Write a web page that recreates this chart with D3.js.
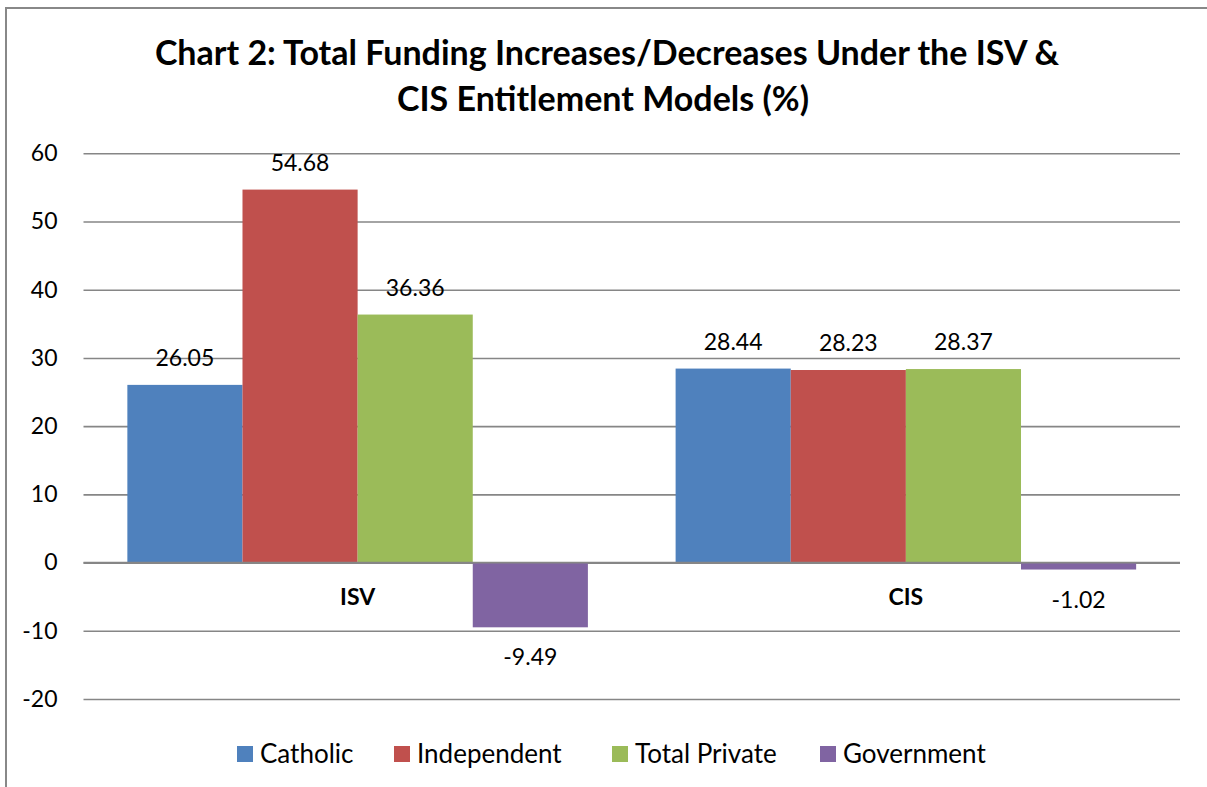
<!DOCTYPE html>
<meta charset="utf-8">
<style>
body { margin: 0; background: #fff; }
text { font-family: Lato, "Open Sans", sans-serif; fill: #000; }
</style>
<body>
<svg width="1207" height="787"></svg>
<script src="https://d3js.org/d3.v7.min.js"></script>
<script>

var categories = ["ISV", "CIS"];
var seriesNames = ["Catholic", "Independent", "Total Private", "Government"];
var catholic = [26.05, 28.44];
var independent = [54.68, 28.23];
var totalPrivate = [36.36, 28.37];
var government = [-9.49, -1.02];
var yTicks = [-20, -10, 0, 10, 20, 30, 40, 50, 60];
var colors = ["#4F81BD", "#C0504D", "#9BBB59", "#8064A2"];

var seriesValues = [catholic, independent, totalPrivate, government];
var data = categories.map(function(c, i) {
  return { cat: c, vals: seriesNames.map(function(s, j) { return { key: s, value: seriesValues[j][i] }; }) };
});

var svg = d3.select("svg");

// frame (left + top edges visible)
svg.append("path")
    .attr("d", "M6,787V8H1207")
    .attr("fill", "none")
    .attr("stroke", "#888")
    .attr("stroke-width", 2);

// title
var title = svg.append("text")
    .attr("text-anchor", "middle")
    .attr("font-weight", "bold")
    .attr("font-size", 34);
title.append("tspan").attr("x", 607).attr("y", 65).text("Chart 2: Total Funding Increases/Decreases Under the ISV &");
title.append("tspan").attr("x", 603).attr("y", 111).text("CIS Entitlement Models (%)");

var x0 = d3.scaleBand()
    .domain(categories)
    .range([83.5, 1180])
    .paddingInner(0.16)
    .paddingOuter(0.08);

var x1 = d3.scaleBand()
    .domain(seriesNames)
    .range([0, x0.bandwidth()]);

var y = d3.scaleLinear()
    .domain([-20, 60])
    .range([699, 153.3]);

var z = d3.scaleOrdinal().domain(seriesNames).range(colors);

// gridlines + y labels
var yAxis = svg.append("g")
    .attr("transform", "translate(83.5,0)")
    .call(d3.axisLeft(y).tickValues(yTicks).tickFormat(function(d) { return String(d); })
      .tickSize(-(1180 - 83.5)).tickPadding(26));
yAxis.select(".domain").remove();
yAxis.selectAll(".tick line").attr("stroke", "#868686").attr("stroke-width", 1.6);
yAxis.selectAll(".tick text")
    .attr("font-size", 23)
    .attr("font-family", "Lato, 'Open Sans', sans-serif")
    .attr("fill", "#000");

// bars
var groups = svg.append("g").selectAll("g")
  .data(data)
  .enter().append("g")
    .attr("transform", function(d) { return "translate(" + x0(d.cat) + ",0)"; });

groups.selectAll("rect")
  .data(function(d) { return d.vals; })
  .enter().append("rect")
    .attr("x", function(d) { return x1(d.key); })
    .attr("y", function(d) { return y(Math.max(0, d.value)); })
    .attr("width", x1.bandwidth())
    .attr("height", function(d) { return Math.abs(y(d.value) - y(0)); })
    .attr("fill", function(d) { return z(d.key); });

// zero line on top of bars
svg.append("line")
    .attr("x1", 83.5).attr("x2", 1180)
    .attr("y1", y(0)).attr("y2", y(0))
    .attr("stroke", "#868686").attr("stroke-width", 1.6);

// value labels
groups.selectAll(".val")
  .data(function(d) { return d.vals; })
  .enter().append("text")
    .attr("class", "val")
    .attr("text-anchor", "middle")
    .attr("font-size", 23)
    .attr("x", function(d) { return x1(d.key) + x1.bandwidth() / 2; })
    .attr("y", function(d) { return d.value >= 0 ? y(d.value) - 19 : y(d.value) + 38; })
    .text(function(d) { return d.value.toFixed(2); });

// category labels
svg.append("g").selectAll("text")
  .data(categories)
  .enter().append("text")
    .attr("text-anchor", "middle")
    .attr("font-weight", "bold")
    .attr("font-size", 23)
    .attr("x", function(d) { return x0(d) + x0.bandwidth() / 2; })
    .attr("y", 605)
    .text(function(d) { return d; });

// legend
var legendX = [237, 394, 612, 820];
var legend = svg.append("g").selectAll("g")
  .data(seriesNames)
  .enter().append("g")
    .attr("transform", function(d, i) { return "translate(" + legendX[i] + ",746)"; });

legend.append("rect")
    .attr("width", 16)
    .attr("height", 16)
    .attr("fill", z);

legend.append("text")
    .attr("x", 23)
    .attr("y", 17)
    .attr("font-size", 26)
    .text(function(d) { return d; });

</script>
</body>
